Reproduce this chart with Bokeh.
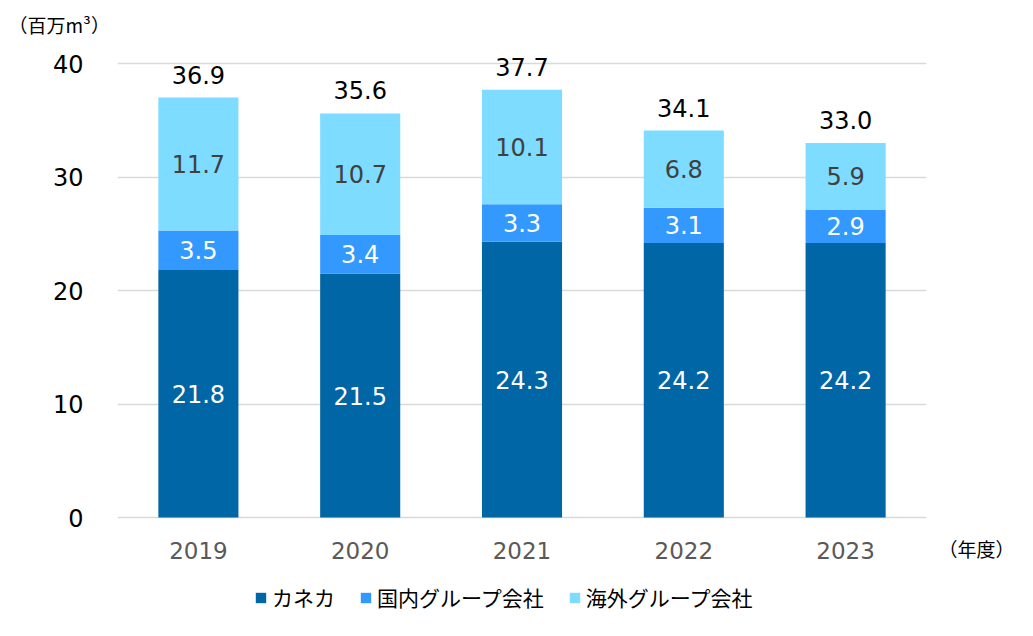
from bokeh.plotting import figure
from bokeh.models import (FactorRange, Range1d, ColumnDataSource, FixedTicker, Legend, LegendItem,
                          Title, LinearAxis)
from bokeh.core.properties import value
from bokeh.embed import file_html
from bokeh.resources import INLINE

years = ["2019", "2020", "2021", "2022", "2023"]
kaneka = [21.8, 21.5, 24.3, 24.2, 24.2]
domestic = [3.5, 3.4, 3.3, 3.1, 2.9]
overseas = [11.7, 10.7, 10.1, 6.8, 5.9]
totals = [36.9, 35.6, 37.7, 34.1, 33.0]
y_ticks = [0, 10, 20, 30, 40]
series_names = ["カネカ", "国内グループ会社", "海外グループ会社"]
unit_label = "（百万m³）"
year_unit_label = "（年度）"
colors = ["#0066A6", "#3399FF", "#7DDCFF"]

NUM_FONT = "DejaVu Sans"
JP_FONT = "Noto Sans CJK JP"

# frame covers the plot area plus the space beneath it (axis fixed at y=0)
Y_BOTTOM = -9.07
Y_TOP = 42.03
YEAR_UNIT_Y = -2.73   # vertical position of the (年度) note, in data units

p = figure(x_range=FactorRange(factors=years, range_padding=0), y_range=Range1d(Y_BOTTOM, Y_TOP),
           width=1017, height=620, output_backend="svg", toolbar_location=None,
           min_border_left=117, min_border_right=82, min_border_top=40, min_border_bottom=0)
p.outline_line_color = None
p.background_fill_color = "white"
p.border_fill_color = "white"

b2 = [k + d for k, d in zip(kaneka, domestic)]
t2 = [a + o for a, o in zip(b2, overseas)]

src = ColumnDataSource(dict(
    x=years, b0=[0] * len(years), b1=list(kaneka), b2=b2, t2=t2,
    m0=[k / 2 for k in kaneka],
    m1=[k + d / 2 for k, d in zip(kaneka, domestic)],
    m2=[a + o / 2 for a, o in zip(b2, overseas)],
    l0=[f"{v:.1f}" for v in kaneka],
    l1=[f"{v:.1f}" for v in domestic],
    l2=[f"{v:.1f}" for v in overseas],
    lt=[f"{v:.1f}" for v in totals],
))

W = 0.495
r0 = p.vbar(x="x", bottom="b0", top="b1", width=W, source=src, color=colors[0], line_color=None)
r1 = p.vbar(x="x", bottom="b1", top="b2", width=W, source=src, color=colors[1], line_color=None)
r2 = p.vbar(x="x", bottom="b2", top="t2", width=W, source=src, color=colors[2], line_color=None)

common = dict(text_font=value(NUM_FONT), text_font_size="24px", text_align="center",
              text_baseline="middle", source=src)
p.text(x="x", y="m0", text="l0", text_color="white", **common)
p.text(x="x", y="m1", text="l1", text_color="white", **common)
p.text(x="x", y="m2", text="l2", text_color="#404040", **common)
p.text(x="x", y="t2", text="lt", text_color="#000000", y_offset=-23, **common)

# y axis
p.yaxis.ticker = FixedTicker(ticks=y_ticks)
p.yaxis.axis_line_color = None
p.yaxis.major_tick_line_color = None
p.yaxis.minor_tick_line_color = None
p.yaxis.major_tick_out = 0
p.yaxis.major_tick_in = 0
p.yaxis.major_label_standoff = 34
p.yaxis.major_label_text_font = NUM_FONT
p.yaxis.major_label_text_font_size = "24px"
p.yaxis.major_label_text_color = "#000000"

# x axis fixed at y = 0
p.xaxis.fixed_location = 0
p.xaxis.axis_line_color = None
p.xaxis.major_tick_line_color = None
p.xaxis.minor_tick_line_color = None
p.xaxis.major_label_standoff = 18
p.xaxis.major_label_text_font = NUM_FONT
p.xaxis.major_label_text_font_size = "23px"
p.xaxis.major_label_text_color = "#595959"

p.xgrid.grid_line_color = None
p.ygrid.ticker = FixedTicker(ticks=y_ticks)
p.ygrid.grid_line_color = "#D9D9D9"
p.ygrid.grid_line_width = 1.4

# unit label (top-left)
p.add_layout(Title(text=unit_label, align="left", offset=-109, standoff=6,
                   text_font=JP_FONT, text_font_size="19px", text_font_style="normal",
                   text_color="#000000"), "above")

# (年度) note on the right side, level with the year labels
yr_axis = LinearAxis(ticker=FixedTicker(ticks=[YEAR_UNIT_Y]),
                     major_label_overrides={YEAR_UNIT_Y: year_unit_label})
yr_axis.axis_line_color = None
yr_axis.major_tick_line_color = None
yr_axis.minor_tick_line_color = None
yr_axis.major_tick_out = 0
yr_axis.major_tick_in = 0
yr_axis.major_label_standoff = 12
yr_axis.major_label_text_font = JP_FONT
yr_axis.major_label_text_font_size = "19px"
yr_axis.major_label_text_color = "#000000"
p.add_layout(yr_axis, "right")

legend = Legend(items=[LegendItem(label=series_names[0], renderers=[r0]),
                       LegendItem(label=series_names[1], renderers=[r1]),
                       LegendItem(label=series_names[2], renderers=[r2])],
                orientation="horizontal", location=(137, 8),
                glyph_width=13, glyph_height=13, label_standoff=5, spacing=24,
                padding=0, margin=0, border_line_color=None, background_fill_alpha=0,
                label_text_font=JP_FONT, label_text_font_size="21px", label_text_color="#000000")
p.add_layout(legend, "center")

open("out.html", "w").write(file_html(p, INLINE))
